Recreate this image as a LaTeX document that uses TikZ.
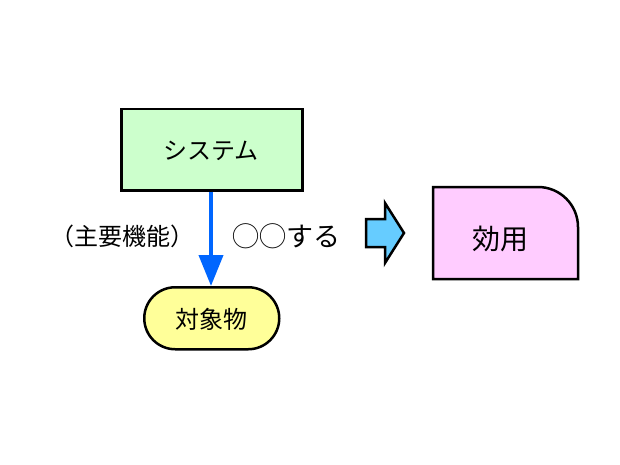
\documentclass[tikz,border=0pt]{standalone}
\usepackage{fontspec}
\newfontfamily\jp{Noto Sans CJK JP}
\usetikzlibrary{arrows.meta}
\definecolor{sysgreen}{HTML}{CCFFCC}
\definecolor{objyellow}{HTML}{FFFF99}
\definecolor{effpink}{HTML}{FFCCFF}
\definecolor{arrblue}{HTML}{66CCFF}
\definecolor{linkblue}{HTML}{0066FF}
\begin{document}
\begin{tikzpicture}[x=1pt,y=-1pt,
  boxline/.style={draw=black,line width=2.5pt},
  jpfont/.style={font=\jp\fontsize{24}{28}\selectfont},
  lbl/.style={jpfont,inner sep=0pt}]
\useasboundingbox (0,0) rectangle (620,465);
% System box
\node[boxline,fill=sysgreen,minimum width=181pt,minimum height=81pt,anchor=north west,inner sep=0pt] (sys) at (120,108) {};
\node[lbl] (syst) at (211,151) {システム};
% Object
\node[boxline,fill=objyellow,rounded corners=31pt,minimum width=135pt,minimum height=62pt,anchor=north west,inner sep=0pt] (obj) at (143,286) {};
\node[lbl] (objt) at (211,319) {対象物};
% Arrow
\draw[linkblue,line width=4pt,-{Triangle[length=31pt,width=24pt]}] (sys.south -| 211,0) -- (obj.north -| 211,0);
% Labels
\node[lbl] (fn) at (122,236) {（主要機能）};
\node[lbl,font=\jp\fontsize{27}{30}\selectfont] (act) at (286,236) {◯◯する};
% Block arrow
\draw[boxline,fill=arrblue,line join=miter] (366,219) -- (385,219) -- (385,203) -- (404,233) -- (385,263) -- (385,247) -- (366,247) -- cycle;
\coordinate (ba) at (385,233);
% Effect box
\draw[boxline,fill=effpink] (433,279) -- (433,187) -- (538,187) arc[start angle=-90,end angle=0,radius=40] -- (578,279) -- cycle;
\node[font=\jp\fontsize{28}{32}\selectfont,inner sep=0pt] (eff) at (500,239) {効用};
\end{tikzpicture}
\end{document}
